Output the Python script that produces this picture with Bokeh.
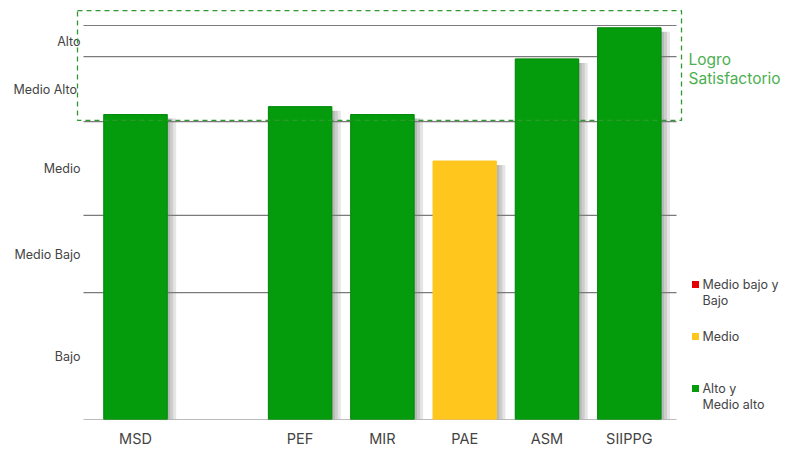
from bokeh.plotting import figure
from bokeh.models import ColumnDataSource, FixedTicker, Range1d
from bokeh.core.properties import value
from bokeh.embed import file_html
from bokeh.resources import INLINE

# ---------------- data ----------------
categories = ["MSD", "", "PEF", "MIR", "PAE", "ASM", "SIIPPG"]
bar_values = [77.4, None, 79.4, 77.4, 65.6, 91.5, 99.4]
bar_colors = ["#049C0C", None, "#049C0C", "#049C0C", "#FFC61E", "#049C0C", "#049C0C"]

level_labels = ["Bajo", "Medio Bajo", "Medio", "Medio  Alto", "Alto"]
level_bounds = [0, 32.2, 51.8, 75.6, 92.1, 100]   # band limits (bottom .. top)

legend_labels = [["Medio bajo y", "Bajo"], ["Medio"], ["Alto y", "Medio alto"]]
legend_colors = ["#E40000", "#FFC61E", "#049C0C"]

goal_label = ["Logro", "Satisfactorio"]

FONT = "Inter"
TXT = "#444444"

# ---------------- figure ----------------
PX_X = 82.3   # pixels per category slot
PX_Y = 3.94   # pixels per value unit
W, H = 790, 449
X0 = 135      # pixel of first slot centre

p = figure(width=W, height=H, output_backend="svg", toolbar_location=None,
           x_range=Range1d(-X0 / PX_X, (W - X0) / PX_X),
           y_range=Range1d(0, 419 / PX_Y),
           min_border_left=0, min_border_right=0, min_border_top=0,
           min_border_bottom=30)
p.outline_line_color = None
p.xgrid.visible = False
p.ygrid.visible = False
p.yaxis.visible = False

xs = [i for i, v in enumerate(bar_values) if v is not None]
tops = [bar_values[i] for i in xs]
cols = [bar_colors[i] for i in xs]
src = ColumnDataSource(dict(x=xs, top=tops, color=cols))

# shadows
for k in (3, 6, 9):
    p.vbar(x=[x + k / PX_X for x in xs], top=[t - 4 / PX_Y for t in tops], bottom=0,
           width=0.77, fill_color="black", fill_alpha=0.1, line_color=None)

# horizontal level lines
x0, x1 = -52 / PX_X, 541 / PX_X
p.segment(x0=[x0] * len(level_bounds), x1=[x1] * len(level_bounds),
          y0=level_bounds, y1=level_bounds, line_color="#7a7a7a", line_width=1.2)

# bars
p.vbar(x="x", top="top", bottom=0, width=0.77, source=src, fill_color="color",
       line_color="color", line_width=1)
p.vbar(x=xs, top=tops, bottom=0, width=0.77, fill_color=None,
       line_color="#0a7d10", line_alpha=[0.6 if c == "#049C0C" else 0 for c in cols])

# level labels (band midpoints)
mids = [(level_bounds[i] + level_bounds[i + 1]) / 2 for i in range(len(level_labels))]
p.text(x=[-55 / PX_X] * len(level_labels), y=mids, text=level_labels,
       text_align="right", text_baseline="middle", text_font=value(FONT),
       text_font_size="12.5px", text_color=TXT)

# dashed "Logro satisfactorio" box
p.quad(left=-58 / PX_X, right=546 / PX_X, bottom=level_bounds[3] + 0.3,
       top=level_bounds[-1] + 3.8, fill_color=None, line_color="#2E9A2E",
       line_width=1.3, line_dash="5 4")
p.text(x=[553 / PX_X] * 2, y=[level_bounds[-1] - 34 / PX_Y, level_bounds[-1] - 53 / PX_Y],
       text=goal_label, text_align="left", text_baseline="middle",
       text_font=value(FONT), text_font_size="15.5px", text_color="#4CAF50")

# legend
lx = 560 / PX_X
ly = [(419 - 284) / PX_Y, (419 - 336) / PX_Y, (419 - 388) / PX_Y]
p.scatter(x=[lx] * 3, y=ly, marker="square", size=7, fill_color=legend_colors,
          line_color=None)
tx, ty, tt = [], [], []
for yy, lines in zip(ly, legend_labels):
    for j, s in enumerate(lines):
        tx.append(lx + 7 / PX_X)
        ty.append(yy - j * 16 / PX_Y)
        tt.append(s)
p.text(x=tx, y=ty, text=tt, text_align="left", text_baseline="middle",
       text_font=value(FONT), text_font_size="12.5px", text_color=TXT)

# x axis
p.xaxis.ticker = FixedTicker(ticks=xs)
p.xaxis.major_label_overrides = {i: categories[i] for i in xs}
p.xaxis.axis_line_color = None
p.xaxis.major_tick_line_color = None
p.xaxis.minor_tick_line_color = None
p.xaxis.major_tick_out = 0
p.xaxis.minor_tick_out = 0
p.xaxis.major_label_standoff = 10
p.xaxis.major_label_text_font = FONT
p.xaxis.major_label_text_font_size = "14.5px"
p.xaxis.major_label_text_color = TXT

open("out.html", "w").write(file_html(p, INLINE))
